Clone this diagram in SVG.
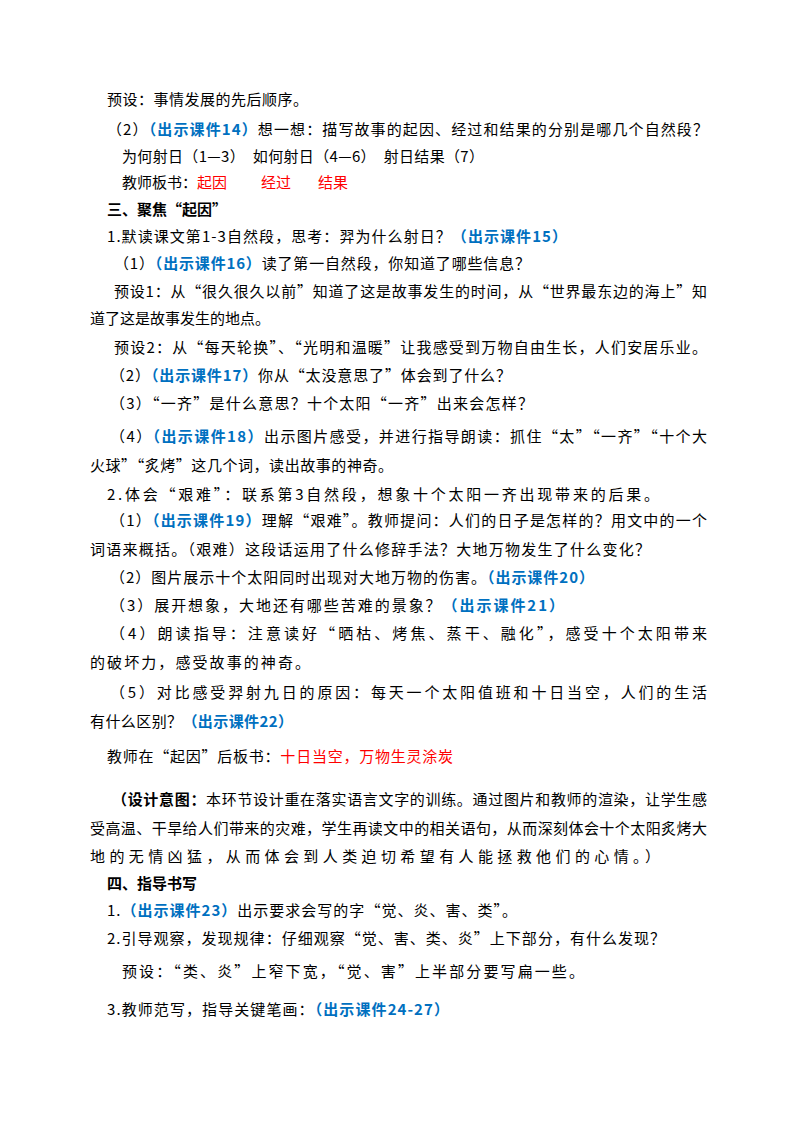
<svg xmlns="http://www.w3.org/2000/svg" width="800" height="1132" viewBox="0 0 800 1132">
<style>
text{font-family:"Noto Sans CJK SC","Liberation Serif",serif;font-size:15px;fill:#000}
.b{fill:#0070c0;font-weight:bold}
.r{fill:#ff0000}
.h{font-weight:bold}
</style>
<rect width="800" height="1132" fill="#fff"/>
<g id="text" lengthAdjust="spacing">
<text x="107" y="105" textLength="201" lengthAdjust="spacing">预设：事情发展的先后顺序。</text>
<text x="107" y="135" textLength="601" lengthAdjust="spacing">（2）<tspan class="b">（出示课件14）</tspan>想一想：描写故事的起因、经过和结果的分别是哪几个自然段？</text>
<text x="122" y="162" textLength="362" lengthAdjust="spacing">为何射日（1—3）　如何射日（4—6）　射日结果（7）</text>
<text x="122" y="188">教师板书：<tspan class="r">起因</tspan><tspan class="r" x="261">经过</tspan><tspan class="r" x="318">结果</tspan></text>
<text x="107" y="215" class="h">三、聚焦“起因”</text>
<text x="107" y="242" textLength="460" lengthAdjust="spacing">1.默读课文第1-3自然段，思考：羿为什么射日？<tspan class="b">（出示课件15）</tspan></text>
<text x="114" y="269" textLength="416" lengthAdjust="spacing">（1）<tspan class="b">（出示课件16）</tspan>读了第一自然段，你知道了哪些信息？</text>
<text x="114" y="297" textLength="593" lengthAdjust="spacing">预设1：从“很久很久以前”知道了这是故事发生的时间，从“世界最东边的海上”知</text>
<text x="90" y="324" textLength="180" lengthAdjust="spacing">道了这是故事发生的地点。</text>
<text x="114" y="353" textLength="593" lengthAdjust="spacing">预设2：从“每天轮换”、“光明和温暖”让我感受到万物自由生长，人们安居乐业。</text>
<text x="110" y="381" textLength="401" lengthAdjust="spacing">（2）<tspan class="b">（出示课件17）</tspan>你从“太没意思了”体会到了什么？</text>
<text x="110" y="409" textLength="423" lengthAdjust="spacing">（3）“一齐”是什么意思？十个太阳“一齐”出来会怎样？</text>
<text x="110" y="442" textLength="597" lengthAdjust="spacing">（4）<tspan class="b">（出示课件18）</tspan>出示图片感受，并进行指导朗读：抓住“太”“一齐”“十个大</text>
<text x="90" y="471" textLength="303" lengthAdjust="spacing">火球”“炙烤”这几个词，读出故事的神奇。</text>
<text x="107" y="500" textLength="552" lengthAdjust="spacing">2.体会“艰难”：联系第3自然段，想象十个太阳一齐出现带来的后果。</text>
<text x="110" y="526" textLength="597" lengthAdjust="spacing">（1）<tspan class="b">（出示课件19）</tspan>理解“艰难”。教师提问：人们的日子是怎样的？用文中的一个</text>
<text x="90" y="555" textLength="560" lengthAdjust="spacing">词语来概括。（艰难）这段话运用了什么修辞手法？大地万物发生了什么变化？</text>
<text x="110" y="583" textLength="484" lengthAdjust="spacing">（2）图片展示十个太阳同时出现对大地万物的伤害。<tspan class="b">（出示课件20）</tspan></text>
<text x="110" y="611" textLength="454" lengthAdjust="spacing">（3）展开想象，大地还有哪些苦难的景象？<tspan class="b">（出示课件21）</tspan></text>
<text x="110" y="639" textLength="597" lengthAdjust="spacing">（4）朗读指导：注意读好“晒枯、烤焦、蒸干、融化”，感受十个太阳带来</text>
<text x="90" y="668" textLength="220" lengthAdjust="spacing">的破坏力，感受故事的神奇。</text>
<text x="110" y="698" textLength="597" lengthAdjust="spacing">（5）对比感受羿射九日的原因：每天一个太阳值班和十日当空，人们的生活</text>
<text x="90" y="727" textLength="203" lengthAdjust="spacing">有什么区别？<tspan class="b">（出示课件22）</tspan></text>
<text x="107" y="762" textLength="346" lengthAdjust="spacing">教师在“起因”后板书：<tspan class="r">十日当空，万物生灵涂炭</tspan></text>
<text x="112" y="805" textLength="595" lengthAdjust="spacing"><tspan class="h">（设计意图：</tspan>本环节设计重在落实语言文字的训练。通过图片和教师的渲染，让学生感</text>
<text x="90" y="834" textLength="617" lengthAdjust="spacing">受高温、干旱给人们带来的灾难，学生再读文中的相关语句，从而深刻体会十个太阳炙烤大</text>
<text x="90" y="862" textLength="570" lengthAdjust="spacing">地的无情凶猛，从而体会到人类迫切希望有人能拯救他们的心情。）</text>
<text x="107" y="889" class="h">四、指导书写</text>
<text x="107" y="916" textLength="410" lengthAdjust="spacing">1.<tspan class="b">（出示课件23）</tspan>出示要求会写的字“觉、炎、害、类”。</text>
<text x="107" y="944" textLength="558" lengthAdjust="spacing">2.引导观察，发现规律：仔细观察“觉、害、类、炎”上下部分，有什么发现？</text>
<text x="122" y="977" textLength="462" lengthAdjust="spacing">预设：“类、炎”上窄下宽，“觉、害”上半部分要写扁一些。</text>
<text x="107" y="1015" textLength="342" lengthAdjust="spacing">3.教师范写，指导关键笔画：<tspan class="b">（出示课件24-27）</tspan></text>
</g>
</svg>
